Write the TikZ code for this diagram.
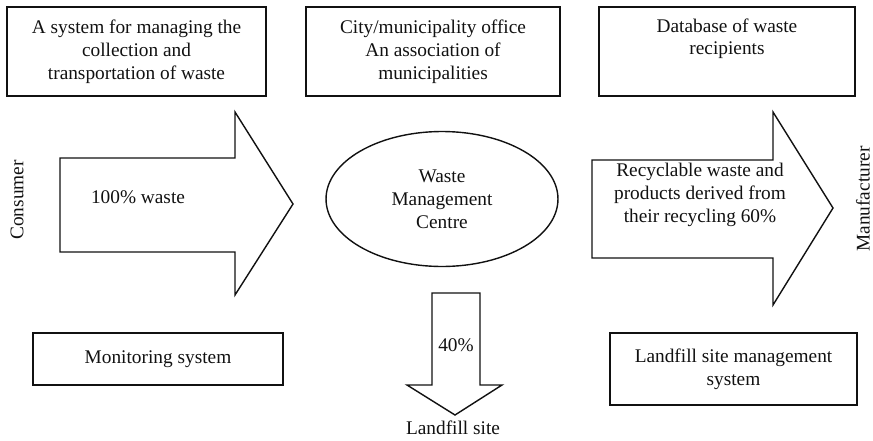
\documentclass[tikz,border=0pt]{standalone}
\usepackage{fontspec}
\setmainfont{Liberation Serif}
\usetikzlibrary{shapes.geometric}
\definecolor{ink}{HTML}{111111}

\begin{document}
\begin{tikzpicture}[x=0.02cm,y=-0.02cm,font=\fontsize{11}{13}\selectfont,text=ink,
  box/.style={draw=ink,line width=1pt,align=center,inner sep=2pt},
  blockarrow/.style={draw=ink,line width=0.8pt,line join=miter}]
  \useasboundingbox (0,0) rectangle (873,440);
  % top row
  \node[box,minimum width=5.18cm,minimum height=1.78cm] (wcs) at (136.5,51.5) {A system for managing the\\collection and\\transportation of waste};
  \node[box,minimum width=5.08cm,minimum height=1.78cm] (city) at (433,51.5) {City/municipality office\\An association of\\municipalities};
  \node[box,minimum width=5.12cm,minimum height=1.78cm] (recip) at (727,51.5) {Database of waste\\recipients\\\strut};
  % flow
  \draw[blockarrow] (60,158) -- (235,158) -- (235,112) -- (293,204) -- (235,295) -- (235,252) -- (60,252) -- cycle;
  \node (waste) at (138,197) {100\% waste};
  \node[rotate=90] (consumer) at (17,200) {Consumer};
  \node[ellipse,draw=ink,line width=0.8pt,minimum width=4.64cm,minimum height=2.7cm,inner sep=0pt,align=center] (wmc) at (442,199) {Waste\\Management\\Centre};
  \draw[blockarrow] (592,160) -- (773,160) -- (773,112) -- (833,208) -- (773,305) -- (773,258) -- (592,258) -- cycle;
  \node[align=center] (recycl) at (700,195) {Recyclable waste and\\products derived from\\their recycling 60\%};
  \node[rotate=90] (manuf) at (863,199) {Manufacturer};
  \draw[blockarrow] (432,293) -- (480,293) -- (480,385) -- (502,385) -- (455,415) -- (407,385) -- (432,385) -- cycle;
  \node (share) at (456,345) {40\%};
  \node (landfill) at (453,428) {Landfill site};
  % bottom row
  \node[box,minimum width=5.0cm,minimum height=1.04cm] (monitor) at (158,359) {Monitoring system};
  \node[box,minimum width=4.94cm,minimum height=1.44cm] (lfmgmt) at (733.5,369) {Landfill site management\\system};
\end{tikzpicture}
\end{document}
